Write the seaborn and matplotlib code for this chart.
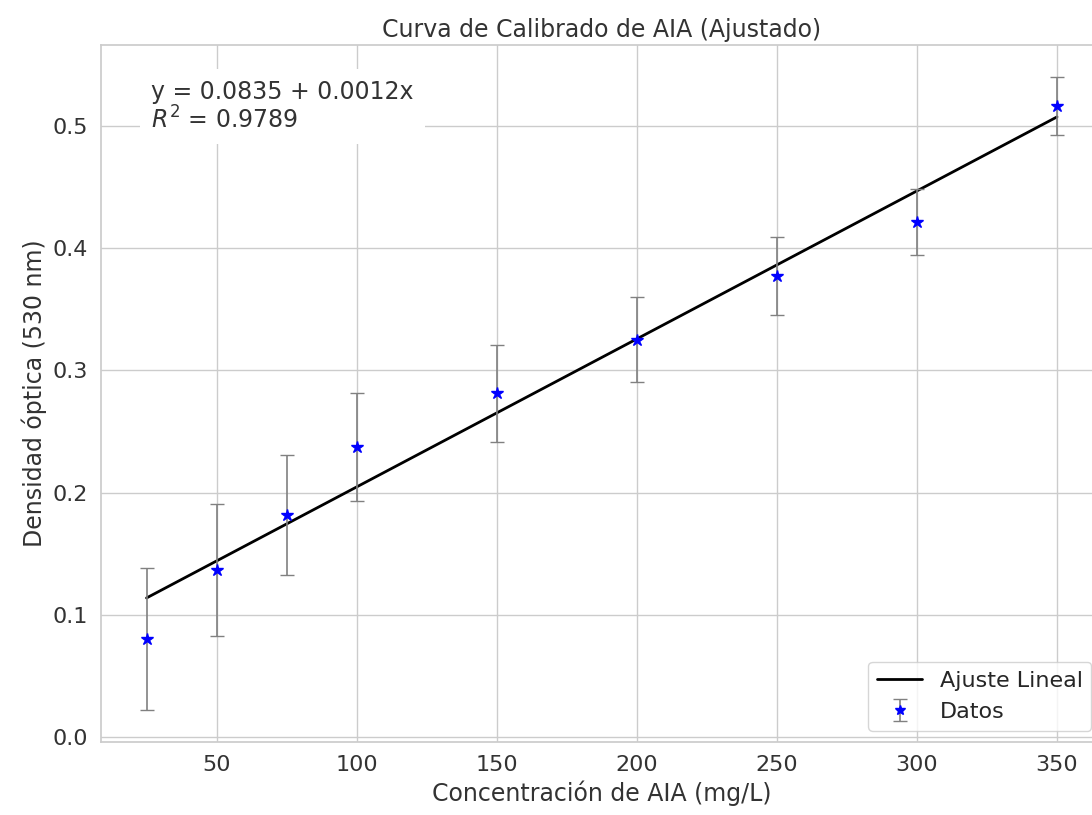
import numpy as np
import pandas as pd
import matplotlib
matplotlib.use("Agg")
import matplotlib.pyplot as plt
import seaborn as sns

# Data
concentracion = [25, 50, 75, 100, 150, 200, 250, 300, 350]
densidad = [0.080, 0.137, 0.182, 0.237, 0.281, 0.325, 0.377, 0.421, 0.516]
error = [0.058, 0.054, 0.049, 0.044, 0.040, 0.035, 0.032, 0.027, 0.024]
intercepto = 0.0836
pendiente = 0.00121
ecuacion = "y = 0.0835 + 0.0012x"
r2_texto = "$R^2$ = 0.9789"

sns.set_theme(style="whitegrid")
plt.rcParams['font.family'] = ['DejaVu Sans']

fig = plt.figure(figsize=(10.92, 8.15), dpi=100)
ax = fig.add_axes([101 / 1092, 73 / 815, 1001.5 / 1092, 697 / 815])

x_fit = np.array([concentracion[0], concentracion[-1]])
df_fit = pd.DataFrame({"x": x_fit, "y": intercepto + pendiente * x_fit})
sns.lineplot(data=df_fit, x="x", y="y", color="black", linewidth=2,
             label="Ajuste Lineal", ax=ax)

ax.errorbar(concentracion, densidad, yerr=error, fmt="*", color="blue",
            ecolor="gray", elinewidth=1.2, capsize=5, markersize=9,
            label="Datos")

ax.text(0.05, 0.95, ecuacion + "\n" + r2_texto, transform=ax.transAxes,
        fontsize=17, va="top", ha="left", color="#333333", linespacing=1.1,
        bbox=dict(facecolor="white", edgecolor="none", pad=8))

ax.set_xlim(8.75, 366.25)
ax.set_ylim(-0.0039, 0.5659)
ax.set_xticks([50, 100, 150, 200, 250, 300, 350])
ax.set_yticks([0.0, 0.1, 0.2, 0.3, 0.4, 0.5])
ax.tick_params(labelsize=16, colors="#333333")
ax.set_title("Curva de Calibrado de AIA (Ajustado)", fontsize=17, color="#333333")
ax.set_xlabel("Concentración de AIA (mg/L)", fontsize=17, color="#333333")
ax.set_ylabel("Densidad óptica (530 nm)", fontsize=17, color="#333333")
ax.legend(loc="lower right", fontsize=16, markerscale=0.8)

fig.savefig("out.png", dpi=100)
